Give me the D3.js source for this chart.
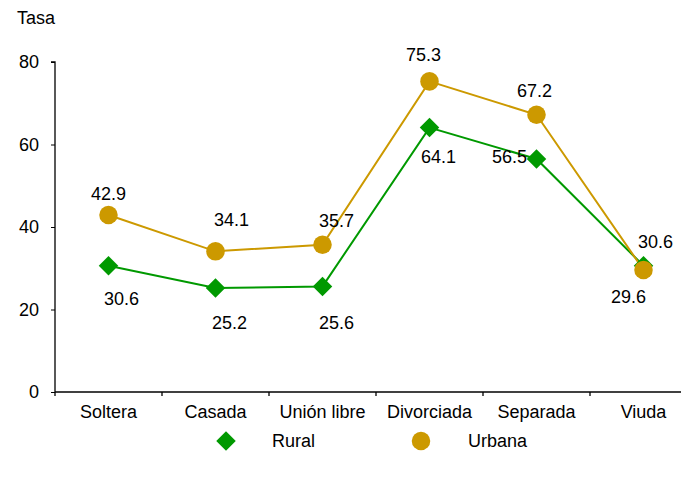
<!DOCTYPE html>
<html lang="es">
  <head>
    <meta charset="UTF-8" />
    <title>Tasa por estado civil</title>
    <script src="https://d3js.org/d3.v7.min.js"></script>
    <style>
      body {
        margin: 0;
        background: #fff;
        font-family: "Liberation Sans", Arial, sans-serif;
      }
      text {
        fill: #000;
      }
    </style>
  </head>
  <body>
    <svg id="chart" width="681" height="480"></svg>
    <script>
      const categories = ["Soltera", "Casada", "Unión libre", "Divorciada", "Separada", "Viuda"];
      const rural = [30.6, 25.2, 25.6, 64.1, 56.5, 30.6];
      const urbana = [42.9, 34.1, 35.7, 75.3, 67.2, 29.6];
      const yTicks = [0, 20, 40, 60, 80];

      // label offsets (dx, dy) from each marker
      const ruralLabelPos = [[13, 33], [14, 35], [14, 37], [9, 29], [-27, -2], [12, -24]];
      const urbanaLabelPos = [[0, -21], [16, -31], [14, -24], [-6, -26], [-2, -24], [-15, 27]];

      const width = 681;
      const height = 480;
      const margin = { top: 62, left: 55, bottom: 88 };
      const fs = 18;

      const svg = d3.select("#chart");

      const x = d3.scaleBand().domain(categories).range([margin.left, 697]);
      const y = d3.scaleLinear().domain([0, 80]).range([height - margin.bottom, margin.top]);
      const cx = (c) => x(c) + x.bandwidth() / 2;

      // y axis
      const yAxis = svg
        .append("g")
        .attr("transform", `translate(${margin.left},0)`)
        .call(d3.axisLeft(y).tickValues(yTicks).tickSize(4).tickPadding(12));
      yAxis.select(".domain").attr("stroke", "#000").attr("stroke-width", 1.3).attr("d", `M-4,${y(80)}H0V${y(0)}`);
      yAxis.selectAll(".tick line").attr("stroke", "#000");
      yAxis.selectAll(".tick text").attr("font-size", fs).attr("font-family", "Liberation Sans, Arial, sans-serif");

      // x axis
      const xAxis = svg
        .append("g")
        .attr("transform", `translate(0,${y(0)})`)
        .call(d3.axisBottom(x).tickSize(0).tickPadding(13));
      xAxis.select(".domain").attr("stroke", "#000").attr("stroke-width", 1.3).attr("d", `M${margin.left},0H697`);
      xAxis.selectAll(".tick text").attr("font-size", fs).attr("font-family", "Liberation Sans, Arial, sans-serif");
      xAxis
        .selectAll(".sep")
        .data(categories)
        .enter()
        .append("line")
        .attr("x1", (d) => x(d))
        .attr("x2", (d) => x(d))
        .attr("y1", 0)
        .attr("y2", 4)
        .attr("stroke", "#000")
        .attr("stroke-width", 1.3);

      svg
        .append("text")
        .attr("x", 17)
        .attr("y", 24)
        .attr("font-size", fs)
        .text("Tasa");

      const series = [
        { name: "Rural", values: rural, color: "#009900", symbol: "diamond", labels: ruralLabelPos },
        { name: "Urbana", values: urbana, color: "#cc9900", symbol: "circle", labels: urbanaLabelPos },
      ];

      const line = d3
        .line()
        .x((d, i) => cx(categories[i]))
        .y((d) => y(d));

      const marker = (sym) =>
        sym === "diamond"
          ? d3.symbol(d3.symbolSquare, 190)()
          : d3.symbol(d3.symbolCircle, 270)();

      series.forEach((s) => {
        svg
          .append("path")
          .attr("d", line(s.values))
          .attr("fill", "none")
          .attr("stroke", s.color)
          .attr("stroke-width", 2);
      });

      series.forEach((s) => {
        svg
          .selectAll(null)
          .data(s.values)
          .enter()
          .append("path")
          .attr("d", marker(s.symbol))
          .attr("transform", (d, i) => `translate(${cx(categories[i])},${y(d)})` + (s.symbol === "diamond" ? " rotate(45)" : ""))
          .attr("fill", s.color);
      });

      series.forEach((s) => {
        svg
          .selectAll(null)
          .data(s.values)
          .enter()
          .append("text")
          .attr("x", (d, i) => cx(categories[i]) + s.labels[i][0])
          .attr("y", (d, i) => y(d) + s.labels[i][1])
          .attr("text-anchor", "middle")
          .attr("dominant-baseline", "central")
          .attr("font-size", fs)
          .text((d) => d.toFixed(1));
      });

      // legend
      const legend = [
        { name: "Rural", color: "#009900", symbol: "diamond", mx: 226, tx: 272 },
        { name: "Urbana", color: "#cc9900", symbol: "circle", mx: 421, tx: 468 },
      ];
      const lg = svg.selectAll(".legend").data(legend).enter().append("g");
      lg.append("path")
        .attr("d", (d) => marker(d.symbol))
        .attr("transform", (d) => `translate(${d.mx},441)` + (d.symbol === "diamond" ? " rotate(45)" : ""))
        .attr("fill", (d) => d.color);
      lg.append("text")
        .attr("x", (d) => d.tx)
        .attr("y", 441)
        .attr("dominant-baseline", "central")
        .attr("font-size", fs)
        .text((d) => d.name);
    </script>
  </body>
</html>
